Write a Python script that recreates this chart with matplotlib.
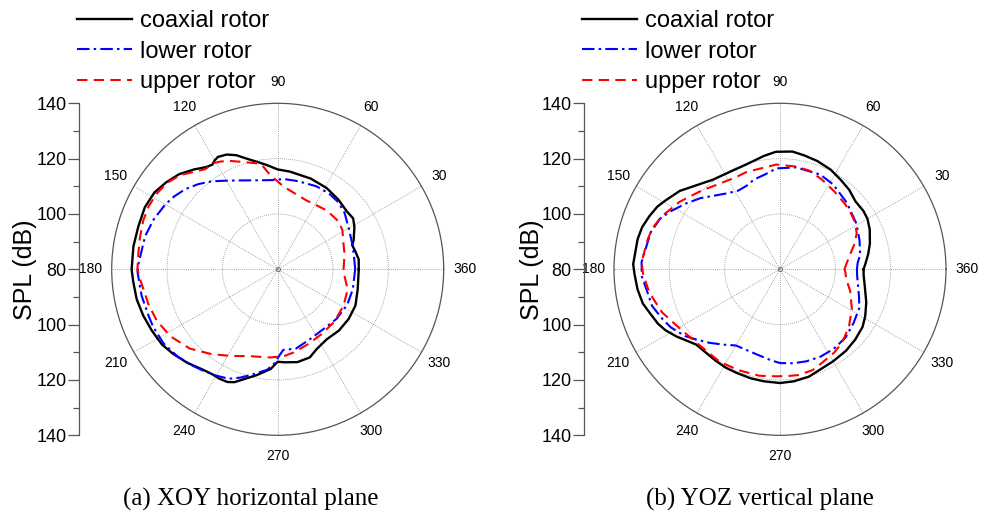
import numpy as np
import matplotlib.pyplot as plt
from matplotlib.ticker import MultipleLocator, FuncFormatter

plt.rcParams['font.family'] = ['Liberation Sans', 'DejaVu Sans']

# (a) XOY horizontal plane - angle in degrees, SPL in dB
xoy_coax_ang = [0, 7, 13, 18, 21, 29, 34, 40, 49, 59, 70, 83, 90, 96, 101, 106, 110, 114, 118, 120,
                122, 125, 130, 136, 142, 148, 155, 163, 171, 180, 185, 192, 199, 206, 213, 219, 226,
                233, 238, 242, 246, 249, 253, 259, 266, 270, 274, 282, 290, 296, 305, 315, 325, 335,
                346, 360]
xoy_coax_spl = [109.3, 109.5, 108.8, 108.3, 109.4, 111.7, 112.9, 112.6, 113.4, 114.3, 114.9, 115.6,
                116.1, 117.9, 119.6, 121.7, 123.9, 125.4, 126.0, 125.5, 124.6, 125.1, 127.1, 129.5,
                131.1, 132.5, 133.0, 132.7, 132.8, 132.8, 132.4, 132.1, 131.4, 130.6, 129.9, 128.6,
                127.0, 125.3, 124.7, 124.8, 124.6, 123.7, 121.5, 118.9, 116.1, 113.4, 113.7, 114.3,
                113.9, 112.1, 110.9, 111.3, 111.3, 111.0, 109.8, 109.3]

xoy_lower_ang = [0, 5, 17, 29, 40, 48, 56, 65, 77, 86, 93, 103, 113, 120, 127, 133, 139, 145, 150,
                 158, 166, 178, 181, 191, 200, 205, 213, 221, 228, 233, 240, 246, 251, 257, 264, 268,
                 272, 274, 277, 283, 295, 308, 320, 333, 345, 360]
xoy_lower_spl = [108.0, 107.9, 108.4, 109.5, 111.6, 112.7, 113.1, 113.1, 112.7, 112.7, 112.3, 113.0,
                 114.9, 117.0, 119.8, 122.1, 124.2, 125.8, 126.9, 128.3, 129.4, 130.4, 130.7, 130.1,
                 129.6, 129.6, 129.2, 128.0, 126.6, 125.6, 124.4, 123.3, 121.4, 118.9, 116.5, 114.0,
                 110.5, 109.2, 109.2, 109.4, 107.8, 107.2, 107.8, 108.2, 108.1, 108.0]

xoy_upper_ang = [0, 13, 22, 31, 38, 50, 61, 68, 80, 86, 93, 96, 98, 101, 108, 114, 118, 121, 126, 131,
                 136, 142, 148, 154, 160, 167, 173, 180, 184, 195, 203, 212, 222, 232, 242, 252, 265,
                 274, 281, 292, 304, 317, 331, 344, 357, 360]
xoy_upper_spl = [103.8, 104.8, 105.6, 107.3, 108.0, 107.7, 107.0, 107.0, 108.6, 110.0, 113.3, 115.4,
                 117.5, 119.0, 120.8, 122.9, 124.1, 124.8, 124.7, 126.6, 129.0, 130.7, 131.6, 131.9,
                 131.7, 131.1, 130.7, 130.7, 129.9, 128.4, 127.5, 125.7, 122.8, 118.9, 115.5, 113.0,
                 112.0, 111.5, 110.6, 109.2, 108.3, 107.9, 107.2, 106.3, 103.9, 103.8]

# (b) YOZ vertical plane
yoz_coax_ang = [0, 4, 10, 16, 24, 30, 35, 42, 49, 56, 63, 71, 78, 84, 92, 98, 108, 117, 127, 135, 142,
                149, 153, 158, 163, 168, 178, 182, 188, 194, 198, 204, 208, 213, 218, 222, 229, 235,
                241, 247, 255, 262, 270, 277, 285, 292, 300, 309, 317, 325, 331, 339, 349, 356, 360]
yoz_coax_spl = [110.2, 111.0, 112.4, 113.8, 115.5, 116.5, 116.8, 116.7, 118.1, 119.1, 120.4, 121.4,
                122.1, 122.8, 122.5, 121.4, 119.8, 119.6, 120.5, 122.9, 126.0, 128.3, 129.8, 131.0,
                132.1, 132.6, 133.1, 132.6, 132.0, 131.1, 129.8, 128.3, 126.9, 124.6, 122.2, 120.7,
                120.3, 120.4, 120.6, 120.6, 120.8, 120.9, 121.1, 120.8, 120.2, 119.0, 118.4, 117.9,
                117.2, 116.4, 115.2, 113.4, 111.2, 110.3, 110.2]

yoz_lower_ang = [0, 5, 10, 20, 31, 45, 58, 67, 81, 92, 99, 106, 112, 118, 125, 131, 138, 145, 152, 157,
                 164, 177, 183, 190, 196, 203, 208, 215, 220, 226, 233, 240, 245, 255, 264, 270, 278,
                 286, 295, 304, 314, 324, 334, 341, 355, 360]
yoz_lower_spl = [107.8, 108.2, 109.4, 110.6, 112.2, 114.1, 116.2, 117.2, 117.3, 116.5, 114.7, 113.8,
                 112.5, 112.2, 113.5, 115.4, 118.5, 121.5, 124.7, 127.0, 128.6, 130.1, 130.0, 128.6,
                 128.1, 126.1, 124.7, 122.0, 119.5, 116.9, 114.1, 111.8, 111.6, 111.9, 113.0, 113.9,
                 114.3, 114.6, 114.8, 114.7, 114.2, 112.9, 111.9, 110.2, 108.0, 107.8]

yoz_upper_ang = [0, 10, 18, 25, 32, 38, 45, 55, 65, 73, 81, 88, 92, 99, 109, 116, 127, 135, 146, 156,
                 162, 167, 177, 182, 190, 200, 210, 223, 237, 248, 259, 268, 274, 280, 288, 294, 303,
                 310, 320, 331, 343, 351, 358, 360]
yoz_upper_spl = [103.3, 105.3, 108.1, 110.6, 112.0, 112.6, 113.3, 114.3, 115.8, 117.2, 117.6, 117.6,
                 117.9, 117.2, 117.2, 116.9, 118.2, 120.2, 123.7, 126.9, 128.4, 129.0, 130.1, 129.5,
                 128.0, 125.4, 122.2, 120.0, 119.9, 119.4, 119.2, 118.7, 118.7, 118.8, 118.3, 117.1,
                 115.9, 114.8, 112.5, 109.7, 106.5, 104.3, 103.6, 103.3]

labels = ['coaxial rotor', 'lower rotor', 'upper rotor']
theta_labels = ['360', '30', '60', '90', '120', '150', '180', '210', '240', '270', '300', '330']

W, H = 985, 514
fig = plt.figure(figsize=(W / 100, H / 100), dpi=100)

R = 166
CY = 269.3


def panel(cx, spine_x, label_x, cap_x, caption, data):
    ax = fig.add_axes([(cx - R) / W, (H - CY - R) / H, 2 * R / W, 2 * R / H], projection='polar')
    styles = [dict(color='black', lw=1.7, ls='-'),
              dict(color='#0000ff', lw=1.5, ls=(0, (6, 2, 1.2, 2))),
              dict(color='#ff0000', lw=1.5, ls=(0, (5, 3)))]
    lines = []
    for (ang, spl), st, lab in zip(data, styles, labels):
        l, = ax.plot(np.deg2rad(ang), spl, label=lab, **st)
        lines.append(l)
    ax.plot(0, 80, 'o', ms=3, mfc='none', mec='#666666', mew=0.6)
    ax.set_rlim(80, 140)
    ax.set_rticks([100, 120])
    ax.set_yticklabels([])
    ax.set_thetagrids(range(0, 360, 30), labels=theta_labels, fontsize=10)
    ax.set_xticks(np.deg2rad(np.arange(15, 360, 30)), minor=True)
    ax.tick_params(axis='x', which='major', length=0, pad=8)
    ax.tick_params(axis='x', which='minor', length=4, direction='in', color='#555555')
    ax.grid(True, color='#888888', ls=(0, (1, 1.5)), lw=0.6)
    ax.spines['polar'].set_color('#555555')
    ax.spines['polar'].set_linewidth(0.9)

    sa = fig.add_axes([spine_x / W, (H - CY - R) / H, 0.0001, 2 * R / H])
    sa.set_ylim(-60, 60)
    sa.set_yticks(range(-60, 61, 20))
    sa.yaxis.set_major_formatter(FuncFormatter(lambda v, p: '%d' % (abs(v) + 80)))
    sa.yaxis.set_minor_locator(MultipleLocator(10))
    sa.tick_params(axis='y', which='major', length=8, width=0.9, pad=1, labelsize=13, color='#555555')
    sa.tick_params(axis='y', which='minor', length=4.5, width=0.9, color='#555555')
    sa.get_xaxis().set_visible(False)
    for s in ['top', 'right', 'bottom']:
        sa.spines[s].set_visible(False)
    sa.spines['left'].set_color('#555555')
    sa.spines['left'].set_linewidth(0.9)
    sa.patch.set_visible(False)

    fig.text(label_x / W, (H - CY) / H, 'SPL (dB)', rotation=90, ha='center', va='center', fontsize=18)
    fig.text(cap_x / W, (H - 499) / H, caption, ha='center', va='center', fontsize=18,
             family='Liberation Serif')
    fig.legend(handles=lines, loc='upper left', bbox_to_anchor=((spine_x - 2) / W, 0.981),
               frameon=False, fontsize=17, handlelength=2.33, handletextpad=0.34,
               labelspacing=0.37, borderpad=0, borderaxespad=0)


panel(277.7, 79, 25, 251, '(a) XOY horizontal plane',
      [(xoy_coax_ang, xoy_coax_spl), (xoy_lower_ang, xoy_lower_spl), (xoy_upper_ang, xoy_upper_spl)])
panel(780, 584.3, 531.7, 760, '(b) YOZ vertical plane',
      [(yoz_coax_ang, yoz_coax_spl), (yoz_lower_ang, yoz_lower_spl), (yoz_upper_ang, yoz_upper_spl)])

fig.savefig('out.png', dpi=100)
